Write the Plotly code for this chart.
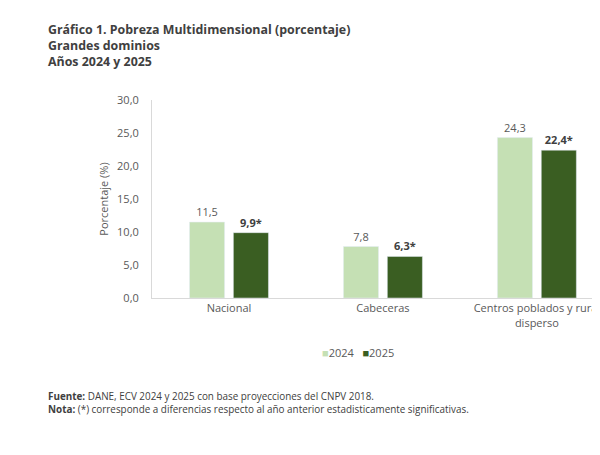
import plotly.graph_objects as go

categories = ["Nacional", "Cabeceras", "Centros poblados y rural<br>disperso"]
values_2024 = [11.5, 7.8, 24.3]
values_2025 = [9.9, 6.3, 22.4]
labels_2024 = ["11,5", "7,8", "24,3"]
labels_2025 = ["<b>9,9*</b>", "<b>6,3*</b>", "<b>22,4*</b>"]
tick_vals = [0, 5, 10, 15, 20, 25, 30]
tick_text = ["0,0", "5,0", "10,0", "15,0", "20,0", "25,0", "30,0"]
C2024 = "#c5e0b4"
C2025 = "#3a5e22"

FONT = "Open Sans"
fig = go.Figure()
fig.add_trace(go.Bar(
    x=categories, y=values_2024, name="2024", marker_color=C2024,
    text=labels_2024, textposition="outside", cliponaxis=False,
    textfont=dict(color="#595959", size=11, family=FONT),
))
fig.add_trace(go.Bar(
    x=categories, y=values_2025, name="2025", marker_color=C2025,
    text=labels_2025, textposition="outside", cliponaxis=False,
    textfont=dict(color="#404040", size=11, family=FONT),
))

fig.update_layout(
    width=592, height=447,
    margin=dict(l=144, r=0, t=92, b=157),
    paper_bgcolor="white", plot_bgcolor="white",
    barmode="group", bargap=0.43, bargroupgap=0.2,
    font=dict(family=FONT, color="#595959", size=11),
    showlegend=False,
    xaxis=dict(range=[-0.5, 2.41], showline=True, linecolor="#d9d9d9", linewidth=1,
               ticks="", tickfont=dict(size=11, color="#595959"), showgrid=False),
    yaxis=dict(range=[0, 30], tickvals=tick_vals, ticktext=tick_text, showgrid=False,
               showline=True, linecolor="#d9d9d9", linewidth=1, ticks="",
               ticklabelstandoff=10,
               tickfont=dict(size=11, color="#595959"), zeroline=False,
               title=dict(text="Porcentaje (%)", font=dict(size=11, color="#595959"), standoff=6)),
)

fig.add_annotation(
    xref="paper", yref="paper", x=0.46, y=-0.273, xanchor="center", yanchor="middle",
    showarrow=False,
    text=f"<span style='color:{C2024}'>■</span>2024   <span style='color:{C2025}'>■</span>2025",
    font=dict(size=11, color="#595959", family=FONT),
)
fig.add_annotation(
    xref="paper", yref="paper", x=-0.237, y=1.409, xanchor="left", yanchor="top",
    align="left", showarrow=False,
    text="<b>Gráfico 1. Pobreza Multidimensional (porcentaje)<br>Grandes dominios<br>Años 2024 y 2025</b>",
    font=dict(size=12.4, color="#404040", family=FONT),
)
fig.add_annotation(
    xref="paper", yref="paper", x=-0.237, y=-0.45, xanchor="left", yanchor="top",
    align="left", showarrow=False,
    text="<b>Fuente:</b> DANE, ECV 2024 y 2025 con base proyecciones del CNPV 2018.<br><b>Nota:</b> (*) corresponde a diferencias respecto al año anterior estadisticamente significativas.",
    font=dict(size=9.9, color="#404040", family=FONT),
)

fig.write_html("out.html")
